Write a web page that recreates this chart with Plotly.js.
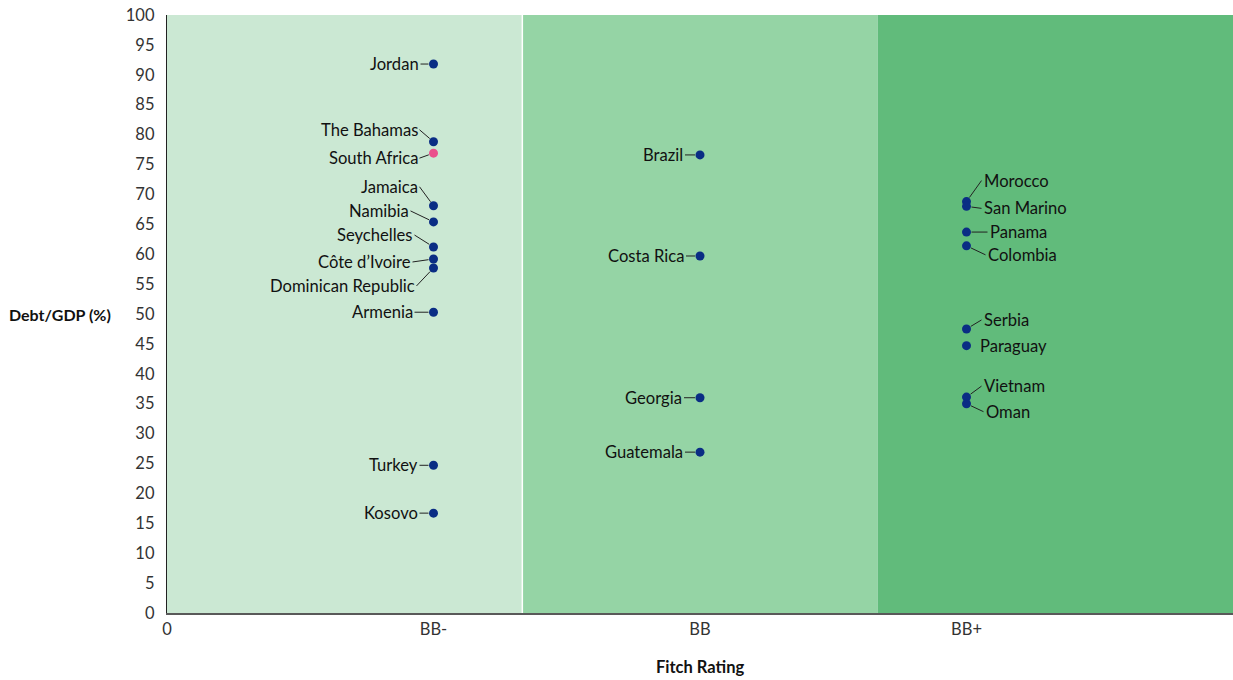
<!DOCTYPE html>
<html>
<head>
<meta charset="utf-8">
<script src="https://cdn.plot.ly/plotly-3.0.1.min.js"></script>
<style>html,body{margin:0;padding:0;background:#fff;}#chart{width:1233px;height:680px;}</style>
</head>
<body>
<div id="chart"></div>
<script>
// ---- data ----
const ratingTicks = ['0', 'BB-', 'BB', 'BB+'];
const ratingPos = [0, 1, 2, 3];

const countries = ['Jordan','The Bahamas','South Africa','Jamaica','Namibia','Seychelles',"Côte d\u2019Ivoire",'Dominican Republic','Armenia','Turkey','Kosovo',
  'Brazil','Costa Rica','Georgia','Guatemala',
  'Morocco','San Marino','Panama','Colombia','Serbia','Paraguay','Vietnam','Oman'];
const ratings = ['BB-','BB-','BB-','BB-','BB-','BB-','BB-','BB-','BB-','BB-','BB-',
  'BB','BB','BB','BB',
  'BB+','BB+','BB+','BB+','BB+','BB+','BB+','BB+'];
const debtGdp = [91.8, 78.8, 76.9, 68.1, 65.4, 61.2, 59.2, 57.7, 50.3, 24.7, 16.7,
  76.6, 59.7, 36.0, 26.9,
  68.8, 68.0, 63.7, 61.4, 47.5, 44.7, 36.1, 35.0];
const highlighted = ['South Africa'];

// ---- label placement (pixel offsets, styling only) ----
const labelOffsets = {
  'Jordan':[-13,0], 'The Bahamas':[-14,-12], 'South Africa':[-14,5], 'Jamaica':[-14,-19],
  'Namibia':[-23,-11], 'Seychelles':[-19,-12], "Côte d\u2019Ivoire":[-21,3], 'Dominican Republic':[-17,18],
  'Armenia':[-19,0], 'Turkey':[-14,0], 'Kosovo':[-14,0],
  'Brazil':[-15,0], 'Costa Rica':[-14,0], 'Georgia':[-16,0], 'Guatemala':[-15,0],
  'Morocco':[15,-21], 'San Marino':[15,2], 'Panama':[21,0], 'Colombia':[19,9],
  'Serbia':[15,-9], 'Paraguay':[11,0], 'Vietnam':[15,-11], 'Oman':[17,8]
};
const noLeader = ['Paraguay'];

const xOf = r => ratingPos[ratingTicks.indexOf(r)];
const xs = ratings.map(xOf);

const FONT = 'Lato, "Open Sans", sans-serif';
const NAVY = '#0a2d84';
const PINK = '#ea4f8c';
const LABEL_SIZE = 16.6;

const trace = {
  type: 'scatter', mode: 'markers',
  x: xs, y: debtGdp, text: countries,
  marker: {size: 9, color: countries.map(c => highlighted.includes(c) ? PINK : NAVY)},
  hoverinfo: 'text+y', showlegend: false, cliponaxis: false
};

const annotations = countries.map((c, i) => {
  const [ax, ay] = labelOffsets[c];
  const right = ax < 0;
  if (noLeader.includes(c)) {
    return {x: xs[i], y: debtGdp[i], xref: 'x', yref: 'y', text: c, showarrow: false,
      xanchor: right ? 'right' : 'left', xshift: ax, yshift: -ay,
      font: {family: FONT, size: LABEL_SIZE, color: '#111'}};
  }
  return {x: xs[i], y: debtGdp[i], xref: 'x', yref: 'y', text: c, showarrow: true,
    arrowhead: 0, arrowwidth: 1, arrowcolor: '#222', standoff: 5,
    ax: ax, ay: ay, xanchor: right ? 'right' : 'left', yanchor: 'middle',
    font: {family: FONT, size: LABEL_SIZE, color: '#111'}};
});

annotations.push({xref: 'paper', yref: 'y', x: 0, y: 50, xanchor: 'right', xshift: -54,
  text: '<b>Debt/GDP (%)</b>', showarrow: false, font: {family: FONT, size: 16, color: '#111'}});
annotations.push({xref: 'paper', yref: 'paper', x: 0.5, y: 0, yanchor: 'middle', yshift: -54,
  text: '<b>Fitch Rating</b>', showarrow: false, font: {family: FONT, size: 16.5, color: '#111'}});

const bands = [
  {x0: 0, x1: 4/3, color: '#cbe8d3'},
  {x0: 4/3, x1: 8/3, color: '#95d4a5'},
  {x0: 8/3, x1: 4, color: '#61bb7b'}
];
const shapes = bands.map(b => ({type: 'rect', xref: 'x', yref: 'paper', x0: b.x0, x1: b.x1, y0: 0, y1: 1,
  fillcolor: b.color, line: {width: 0}, layer: 'below'}));
shapes.push({type: 'line', xref: 'x', yref: 'paper', x0: 4/3, x1: 4/3, y0: 0, y1: 1,
  line: {color: '#ffffff', width: 1.5}, layer: 'below'});

const layout = {
  width: 1233, height: 680,
  margin: {l: 167, r: 0, t: 15, b: 67},
  paper_bgcolor: '#ffffff', plot_bgcolor: '#ffffff',
  font: {family: FONT, size: 16, color: '#333333'},
  xaxis: {range: [0, 4], tickvals: ratingPos, ticktext: ratingTicks, showgrid: false, zeroline: false,
    showline: true, linecolor: '#595959', linewidth: 2, ticks: '', tickfont: {size: 16.5, color: '#333333'},
    fixedrange: true},
  yaxis: {range: [0, 100], dtick: 5, tick0: 0, showgrid: false, zeroline: false,
    showline: true, linecolor: '#222222', linewidth: 1.2, ticks: '', ticklabelstandoff: 8,
    tickfont: {size: 16.5, color: '#333333'}, fixedrange: true},
  shapes: shapes,
  annotations: annotations
};

Plotly.newPlot('chart', [trace], layout, {displayModeBar: false, staticPlot: true});
</script>
</body>
</html>
